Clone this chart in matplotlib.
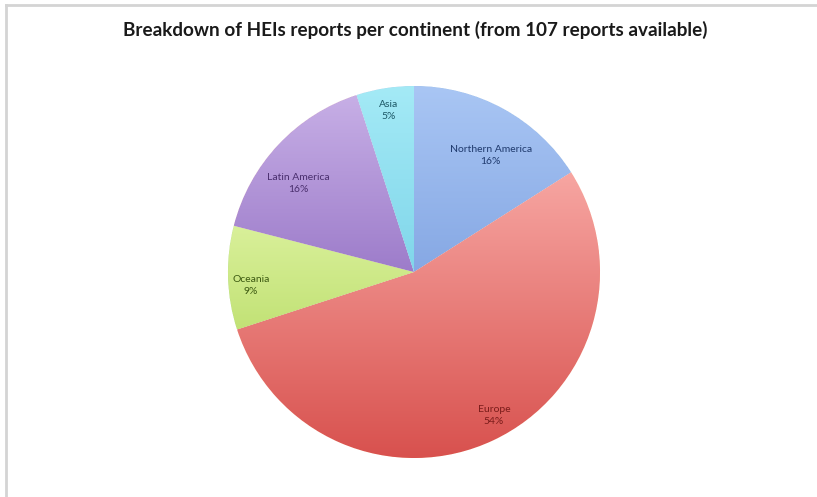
import numpy as np
import matplotlib
matplotlib.use("Agg")
import matplotlib.pyplot as plt
from matplotlib.colors import LinearSegmentedColormap
from matplotlib.lines import Line2D

continents = ["Northern America", "Europe", "Oceania", "Latin America", "Asia"]
shares = [16, 54, 9, 16, 5]
percent_labels = ["16%", "54%", "9%", "16%", "5%"]

light = ["#a9c6f4", "#f7a6a2", "#d9f09a", "#c7afe6", "#a4eaf6"]
dark = ["#86a8e4", "#d8514e", "#c2e276", "#9d7cca", "#80d6ea"]
text_colors = ["#1f3a6e", "#7a1c1a", "#3d5a12", "#4a2f6e", "#1d5866"]
label_r = [0.75, 0.885, 0.88, 0.78, 0.88]
label_da = [-4.5, 3.9, 2.8, 5.8, 0]

plt.rcParams["font.family"] = ["Lato", "DejaVu Sans"]

fig = plt.figure(figsize=(8.17, 4.97), dpi=100)
cx, cy, r = 414, 272, 186
ax = fig.add_axes([(cx - r) / 817, (497 - cy - r) / 497, 2 * r / 817, 2 * r / 497])
ax.set_aspect("equal")
ax.axis("off")

wedges, _ = ax.pie(shares, startangle=90, counterclock=False, radius=1,
                   wedgeprops=dict(edgecolor="white", linewidth=0.6))

for i, w in enumerate(wedges):
    t1, t2 = np.radians(w.theta1), np.radians(w.theta2)
    ang = np.linspace(t1, t2, 100)
    xs = np.concatenate([[0], np.cos(ang)])
    ys = np.concatenate([[0], np.sin(ang)])
    cmap = LinearSegmentedColormap.from_list("g", [dark[i], light[i]])
    grad = np.linspace(0, 1, 256).reshape(-1, 1)
    im = ax.imshow(grad, extent=[xs.min(), xs.max(), ys.min(), ys.max()],
                   origin="lower", cmap=cmap, aspect="auto", zorder=1.5)
    im.set_clip_path(w)
    w.set_zorder(1)
    mid = np.radians((w.theta1 + w.theta2) / 2 + label_da[i])
    ax.text(label_r[i] * np.cos(mid), label_r[i] * np.sin(mid),
            continents[i] + "\n" + percent_labels[i], ha="center", va="center",
            fontsize=7.5, color=text_colors[i], linespacing=1.45, zorder=3)

ax.set_xlim(-1, 1)
ax.set_ylim(-1, 1)

fig.text(415 / 817, 1 - 30 / 497, "Breakdown of HEIs reports per continent (from 107 reports available)",
         ha="center", va="center", fontsize=13.6, fontweight="bold", color="#1a1a1a")

fig.add_artist(Line2D([6 / 817, 6 / 817], [0, 1 - 5 / 497], transform=fig.transFigure,
                      color="#d4d4d4", linewidth=2))
fig.add_artist(Line2D([6 / 817, 1], [1 - 5 / 497, 1 - 5 / 497], transform=fig.transFigure,
                      color="#d4d4d4", linewidth=2))

fig.savefig("out.png", dpi=100, facecolor="white")
